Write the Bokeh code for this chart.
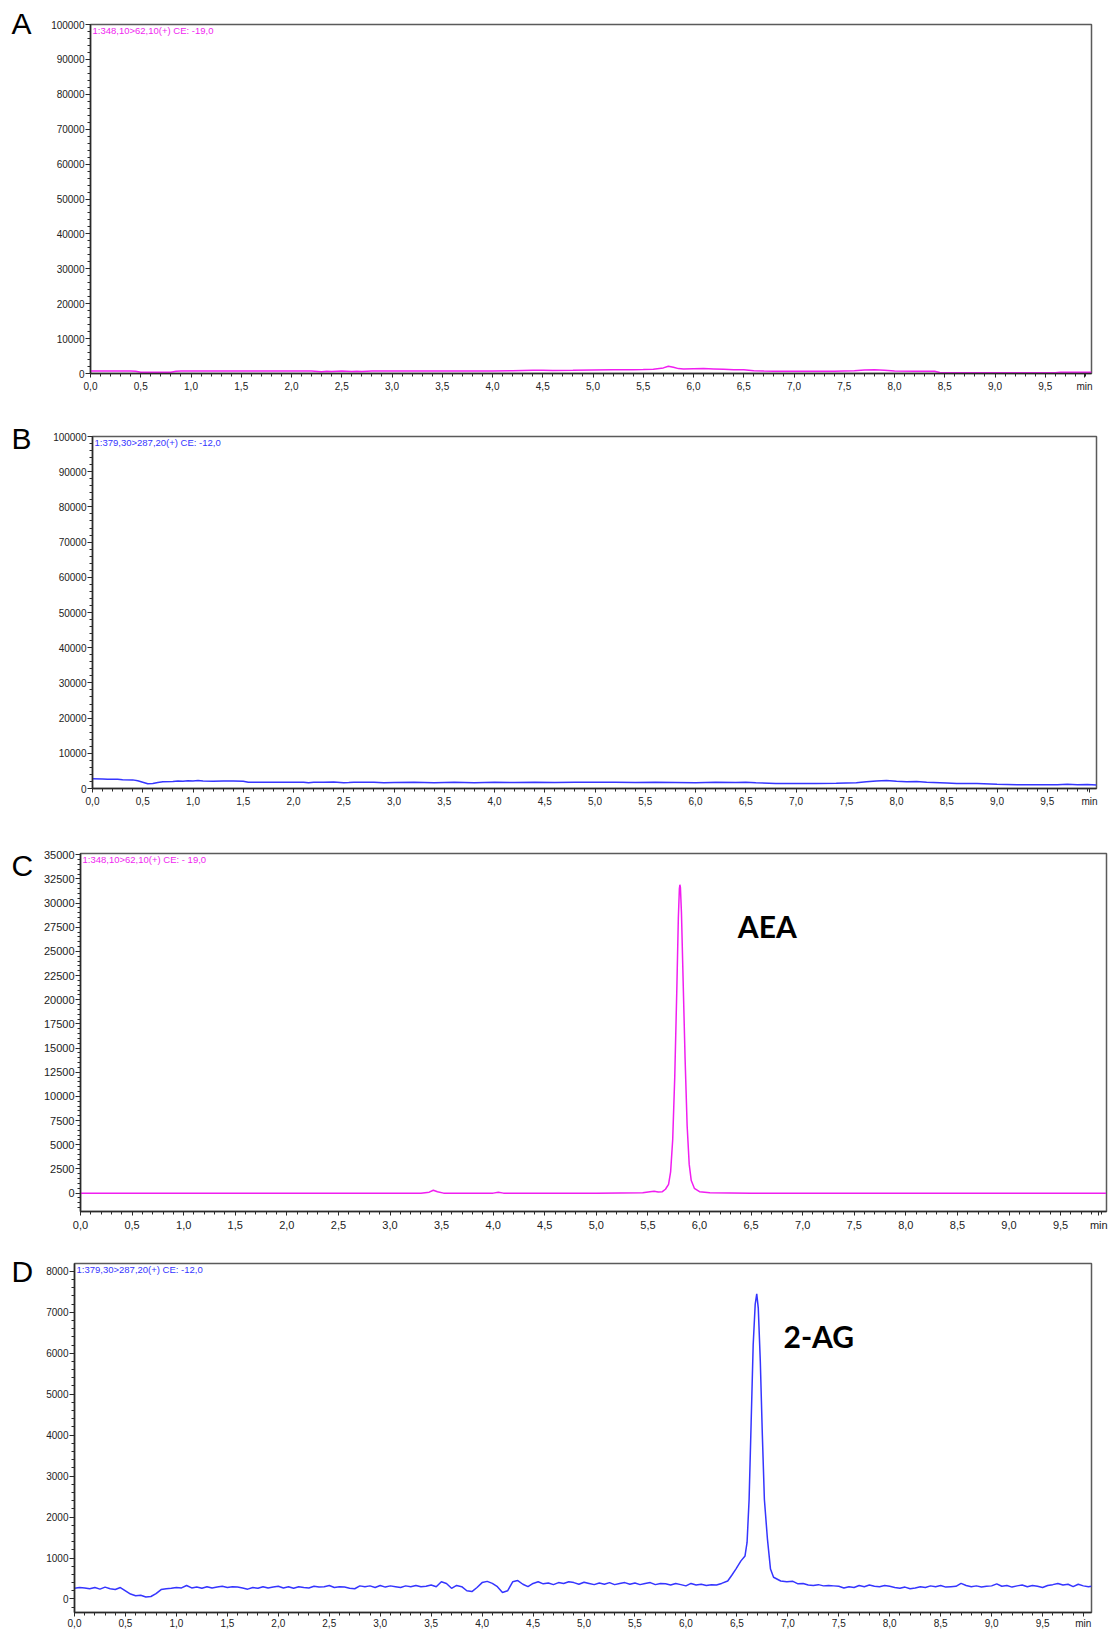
from bokeh.plotting import figure
from bokeh.layouts import column, row
from bokeh.models import FixedTicker, Label, Range1d
from bokeh.core.properties import value
from bokeh.embed import file_html
from bokeh.resources import INLINE

# ---------------- data ----------------
x_tick_values = [0.0, 0.5, 1.0, 1.5, 2.0, 2.5, 3.0, 3.5, 4.0, 4.5, 5.0,
                 5.5, 6.0, 6.5, 7.0, 7.5, 8.0, 8.5, 9.0, 9.5]
x_tick_labels = ["0,0", "0,5", "1,0", "1,5", "2,0", "2,5", "3,0", "3,5", "4,0", "4,5", "5,0",
                 "5,5", "6,0", "6,5", "7,0", "7,5", "8,0", "8,5", "9,0", "9,5"]
x_unit_label = "min"

y_ticks_AB = [0, 10000, 20000, 30000, 40000, 50000, 60000, 70000, 80000, 90000, 100000]
y_labels_AB = ["0", "10000", "20000", "30000", "40000", "50000", "60000", "70000", "80000", "90000", "100000"]
y_ticks_C = [0, 2500, 5000, 7500, 10000, 12500, 15000, 17500, 20000, 22500, 25000, 27500, 30000, 32500, 35000]
y_labels_C = ["0", "2500", "5000", "7500", "10000", "12500", "15000", "17500", "20000", "22500",
              "25000", "27500", "30000", "32500", "35000"]
y_ticks_D = [0, 1000, 2000, 3000, 4000, 5000, 6000, 7000, 8000]
y_labels_D = ["0", "1000", "2000", "3000", "4000", "5000", "6000", "7000", "8000"]

panel_letters = ["A", "B", "C", "D"]
trace_titles = ["1:348,10>62,10(+) CE: -19,0",
                "1:379,30>287,20(+) CE: -12,0",
                "1:348,10>62,10(+) CE: - 19,0",
                "1:379,30>287,20(+) CE: -12,0"]
peak_names = ["AEA", "2-AG"]

# (time [min], intensity)
A_points = [(0.0, 700), (0.1, 700), (0.2, 720), (0.3, 700), (0.4, 700), (0.45, 650), (0.5, 350),
            (0.6, 350), (0.7, 350), (0.8, 380), (0.85, 650), (0.9, 700), (1.0, 700), (1.2, 700),
            (1.4, 710), (1.6, 700), (1.8, 720), (2.0, 700), (2.2, 700), (2.3, 500), (2.35, 650),
            (2.4, 600), (2.5, 700), (2.6, 550), (2.65, 650), (2.7, 550), (2.75, 650), (2.8, 700),
            (3.0, 720), (3.2, 700), (3.4, 700), (3.6, 750), (3.8, 700), (4.0, 750), (4.2, 800),
            (4.4, 950), (4.5, 900), (4.6, 850), (4.8, 900), (5.0, 1000), (5.2, 1050), (5.4, 1100),
            (5.5, 1150), (5.6, 1250), (5.7, 1600), (5.75, 2100), (5.8, 1800), (5.85, 1400),
            (5.9, 1300), (6.0, 1350), (6.1, 1400), (6.2, 1300), (6.3, 1200), (6.4, 1100),
            (6.5, 1050), (6.6, 800), (6.7, 700), (6.8, 650), (7.0, 650), (7.2, 650), (7.4, 650),
            (7.5, 750), (7.6, 800), (7.7, 1000), (7.8, 1050), (7.9, 950), (8.0, 700), (8.2, 680),
            (8.4, 650), (8.45, 300), (8.6, 250), (8.8, 250), (9.0, 250), (9.2, 250), (9.4, 250),
            (9.6, 250), (9.65, 350), (9.8, 350), (9.96, 350)]

B_points = [(0.0, 2750), (0.1, 2700), (0.15, 2600), (0.2, 2650), (0.25, 2600), (0.3, 2500),
            (0.4, 2450), (0.45, 2200), (0.5, 1800), (0.55, 1350), (0.6, 1400), (0.65, 1700),
            (0.7, 1900), (0.8, 2000), (0.85, 2150), (0.9, 2050), (0.95, 2200), (1.0, 2150),
            (1.05, 2250), (1.1, 2150), (1.2, 2050), (1.3, 2100), (1.4, 2100), (1.5, 2050),
            (1.55, 1800), (1.7, 1800), (1.9, 1800), (2.1, 1800), (2.15, 1650), (2.2, 1750),
            (2.3, 1800), (2.4, 1850), (2.5, 1650), (2.55, 1700), (2.6, 1800), (2.8, 1800),
            (2.9, 1600), (3.0, 1700), (3.2, 1750), (3.4, 1650), (3.6, 1750), (3.8, 1650),
            (4.0, 1750), (4.2, 1700), (4.4, 1750), (4.6, 1700), (4.8, 1750), (5.0, 1750),
            (5.2, 1750), (5.4, 1700), (5.6, 1750), (5.8, 1700), (6.0, 1650), (6.2, 1750),
            (6.4, 1700), (6.5, 1750), (6.6, 1600), (6.8, 1450), (7.0, 1400), (7.2, 1400),
            (7.4, 1500), (7.6, 1650), (7.7, 1900), (7.8, 2150), (7.9, 2300), (8.0, 2050),
            (8.1, 1950), (8.2, 2000), (8.3, 1750), (8.5, 1550), (8.6, 1450), (8.8, 1400),
            (9.0, 1200), (9.2, 1100), (9.4, 1100), (9.6, 1050), (9.7, 1200), (9.8, 1100),
            (9.9, 1150), (9.99, 1000)]

C_points = [(0.0, 0), (1.0, 0), (2.0, 0), (3.0, 0), (3.3, 0), (3.38, 100), (3.42, 300),
            (3.46, 150), (3.52, 0), (4.0, 0), (4.05, 80), (4.1, 0), (5.0, 0), (5.45, 30),
            (5.52, 150), (5.56, 200), (5.6, 120), (5.64, 150), (5.67, 400), (5.7, 900),
            (5.72, 2200), (5.74, 5500), (5.76, 12000), (5.78, 21000), (5.795, 28500),
            (5.805, 31500), (5.81, 31900), (5.815, 31600), (5.825, 29000), (5.84, 22500),
            (5.86, 14000), (5.88, 7000), (5.9, 3000), (5.92, 1300), (5.95, 500), (6.0, 150),
            (6.1, 40), (6.5, 0), (7.0, 0), (8.0, 0), (9.0, 0), (9.94, 0)]

D_points = [(0.00, 260), (0.05, 280), (0.10, 270), (0.15, 250), (0.20, 280), (0.25, 240),
            (0.30, 290), (0.35, 250), (0.40, 230), (0.45, 280), (0.50, 200), (0.55, 120),
            (0.60, 80), (0.65, 90), (0.70, 50), (0.75, 60), (0.80, 130), (0.85, 230),
            (0.90, 250), (0.95, 260), (1.00, 280), (1.05, 270), (1.10, 330), (1.15, 270),
            (1.20, 290), (1.25, 260), (1.30, 300), (1.35, 270), (1.40, 290), (1.45, 310),
            (1.50, 280), (1.55, 300), (1.60, 290), (1.65, 270), (1.70, 240), (1.75, 280),
            (1.80, 260), (1.85, 300), (1.90, 270), (1.95, 290), (2.00, 310), (2.05, 270),
            (2.10, 300), (2.15, 260), (2.20, 300), (2.25, 280), (2.30, 270), (2.35, 310),
            (2.40, 290), (2.45, 300), (2.50, 330), (2.55, 280), (2.60, 300), (2.65, 290),
            (2.70, 260), (2.75, 250), (2.80, 320), (2.85, 300), (2.90, 320), (2.95, 280),
            (3.00, 330), (3.05, 290), (3.10, 320), (3.15, 300), (3.20, 280), (3.25, 320),
            (3.30, 300), (3.35, 330), (3.40, 300), (3.45, 310), (3.50, 340), (3.55, 300),
            (3.60, 420), (3.65, 380), (3.70, 260), (3.75, 330), (3.80, 300), (3.85, 200),
            (3.90, 180), (3.95, 280), (4.00, 400), (4.05, 430), (4.10, 380), (4.15, 300),
            (4.20, 160), (4.25, 200), (4.30, 420), (4.35, 450), (4.40, 360), (4.45, 300),
            (4.50, 380), (4.55, 420), (4.60, 370), (4.65, 390), (4.70, 350), (4.75, 400),
            (4.80, 380), (4.85, 420), (4.90, 400), (4.95, 360), (5.00, 410), (5.05, 380),
            (5.10, 350), (5.15, 390), (5.20, 360), (5.25, 400), (5.30, 350), (5.35, 380),
            (5.40, 400), (5.45, 360), (5.50, 390), (5.55, 350), (5.60, 380), (5.65, 400),
            (5.70, 350), (5.75, 380), (5.80, 370), (5.85, 340), (5.90, 380), (5.95, 350),
            (6.00, 320), (6.05, 380), (6.10, 340), (6.15, 360), (6.20, 330), (6.25, 350),
            (6.30, 340), (6.35, 380), (6.41, 440), (6.45, 580), (6.49, 730), (6.54, 930),
            (6.58, 1050), (6.60, 1380), (6.62, 2430), (6.64, 4300), (6.66, 6200), (6.68, 7200),
            (6.695, 7450), (6.71, 7100), (6.73, 5800), (6.75, 4000), (6.77, 2430), (6.80, 1460),
            (6.83, 730), (6.86, 530), (6.93, 440), (6.99, 420), (7.05, 430), (7.10, 370),
            (7.15, 380), (7.20, 340), (7.25, 330), (7.30, 350), (7.35, 320), (7.40, 330),
            (7.45, 320), (7.50, 310), (7.55, 270), (7.60, 300), (7.65, 280), (7.70, 330),
            (7.75, 300), (7.80, 340), (7.85, 310), (7.90, 300), (7.95, 330), (8.00, 310),
            (8.05, 280), (8.10, 260), (8.15, 290), (8.20, 250), (8.25, 270), (8.30, 300),
            (8.35, 280), (8.40, 320), (8.45, 300), (8.50, 330), (8.55, 290), (8.60, 300),
            (8.65, 310), (8.70, 380), (8.75, 330), (8.80, 300), (8.85, 320), (8.90, 290),
            (8.95, 310), (9.00, 320), (9.05, 370), (9.10, 310), (9.15, 330), (9.20, 290),
            (9.25, 320), (9.30, 340), (9.35, 300), (9.40, 330), (9.45, 310), (9.50, 280),
            (9.55, 330), (9.60, 350), (9.65, 380), (9.70, 340), (9.75, 360), (9.80, 300),
            (9.85, 360), (9.90, 320), (9.95, 300), (9.98, 310)]

# ---------------- styling ----------------
MAGENTA = "#f01ef0"
BLUE = "#3535ff"
TICK_FONT = "Liberation Sans"
PAGE_W = 1109
PAGE_H = 1631
LETTER_W = 40
MAIN_W = PAGE_W - LETTER_W


def letter_strip(letters, centers_px):
    """One narrow figure over the full page height (pixel ranges, y downward)."""
    f = figure(width=LETTER_W, height=PAGE_H, output_backend="svg", toolbar_location=None,
               x_axis_location=None, y_axis_location=None, title=None,
               x_range=Range1d(0, LETTER_W), y_range=Range1d(PAGE_H, 0),
               min_border=0, min_border_left=0, min_border_right=0,
               min_border_top=0, min_border_bottom=0, outline_line_color=None)
    f.grid.visible = False
    f.text(x=[11] * len(letters), y=centers_px, text=letters,
           text_font=value("Liberation Sans"),
           text_font_size="30px", text_baseline="middle", text_align="left",
           text_color="black")
    return f


def make_panel(points, color, title, height, frame_px, xr, yr,
               y_ticks, y_labels, y_minor_step, min_pos, label_size,
               x_standoff=3, peak=None):
    """frame_px: (left, right, top, bottom, panel_top) in page pixels."""
    fl, fr, ft, fb, top_y = frame_px
    p = figure(width=MAIN_W, height=height, output_backend="svg", toolbar_location=None,
               x_range=Range1d(*xr), y_range=Range1d(*yr),
               min_border_left=fl - LETTER_W, min_border_right=PAGE_W - fr,
               min_border_top=ft - top_y, min_border_bottom=top_y + height - fb)
    p.grid.visible = False
    p.outline_line_color = "#5a5a5a"
    p.outline_line_width = 1.5
    p.background_fill_color = "white"
    p.border_fill_color = "white"

    t = [a for a, _ in points]
    v = [b for _, b in points]
    p.line(t, v, line_color=color, line_width=1.5)

    # x axis
    minor_x = [i / 10 for i in range(0, 100)]
    p.xaxis.ticker = FixedTicker(ticks=x_tick_values + [min_pos], minor_ticks=minor_x)
    ov = dict(zip(x_tick_values, x_tick_labels))
    ov[min_pos] = x_unit_label
    p.xaxis.major_label_overrides = ov
    # y axis
    y_min_ticks = []
    yv = 0
    while yv >= yr[0]:
        y_min_ticks.append(yv)
        yv -= y_minor_step
    yv = 0
    while yv <= yr[1]:
        y_min_ticks.append(yv)
        yv += y_minor_step
    p.yaxis.ticker = FixedTicker(ticks=y_ticks, minor_ticks=y_min_ticks)
    p.yaxis.major_label_overrides = dict(zip(y_ticks, y_labels))

    for ax in (p.xaxis[0], p.yaxis[0]):
        ax.axis_line_color = "#2a2a2a"
        ax.axis_line_width = 1.5
        ax.major_tick_line_color = "#2a2a2a"
        ax.minor_tick_line_color = "#2a2a2a"
        ax.major_tick_in = 0
        ax.minor_tick_in = 0
        ax.major_label_text_font = TICK_FONT
        ax.major_label_text_font_size = label_size
        ax.major_label_text_color = "#222222"
    p.xaxis.major_tick_out = 4
    p.xaxis.minor_tick_out = 3
    p.xaxis.major_label_standoff = x_standoff
    p.yaxis.major_tick_out = 5
    p.yaxis.minor_tick_out = 3
    p.yaxis.major_label_standoff = 1

    def to_data(px, py):
        dx = xr[0] + (px - fl) / (fr - fl) * (xr[1] - xr[0])
        dy = yr[1] - (py - ft) / (fb - ft) * (yr[1] - yr[0])
        return dx, dy

    # trace title inside frame, top-left
    p.add_layout(Label(x=xr[0], y=yr[1], x_offset=2, text=title, text_baseline="top",
                       text_align="left", text_font=TICK_FONT, text_font_size="9.5px",
                       text_color=color))
    if peak is not None:
        name, ppx, ppy = peak
        px_, py_ = to_data(ppx, ppy)
        p.add_layout(Label(x=px_, y=py_, text=name, text_baseline="middle",
                           text_align="left", text_font="Lato", text_font_style="bold",
                           text_font_size="30px", text_color="black"))
    # wrap in its own row so the column does not align the panels' frames
    return row(p)


# Panel A: page rows 0..412
rA = make_panel(A_points, MAGENTA, trace_titles[0], 412,
                (90, 1091, 24, 373, 0), (0.0, 9.96), (0, 100000),
                y_ticks_AB, y_labels_AB, 2000, 9.89, "10px")
# Panel B: page rows 412..822
rB = make_panel(B_points, BLUE, trace_titles[1], 410,
                (92, 1096, 436, 788, 412), (0.0, 9.99), (0, 100000),
                y_ticks_AB, y_labels_AB, 2000, 9.92, "10px")
# Panel C: page rows 822..1236
rC = make_panel(C_points, MAGENTA, trace_titles[2], 414,
                (79, 1106, 853, 1211, 822), (0.0, 9.945), (-1900, 35130),
                y_ticks_C, y_labels_C, 500, 9.87, "11px",
                peak=(peak_names[0], 737, 925))
# Panel D: page rows 1236..1631
rD = make_panel(D_points, BLUE, trace_titles[3], 395,
                (74, 1091, 1263, 1614, 1236), (0.0, 9.98), (-330, 8190),
                y_ticks_D, y_labels_D, 200, 9.9, "10px",
                x_standoff=1, peak=(peak_names[1], 783, 1336))

strip = letter_strip(panel_letters, [23, 438, 865, 1271])
layout = row(strip, column(rA, rB, rC, rD))

open("out.html", "w").write(file_html(layout, INLINE))
